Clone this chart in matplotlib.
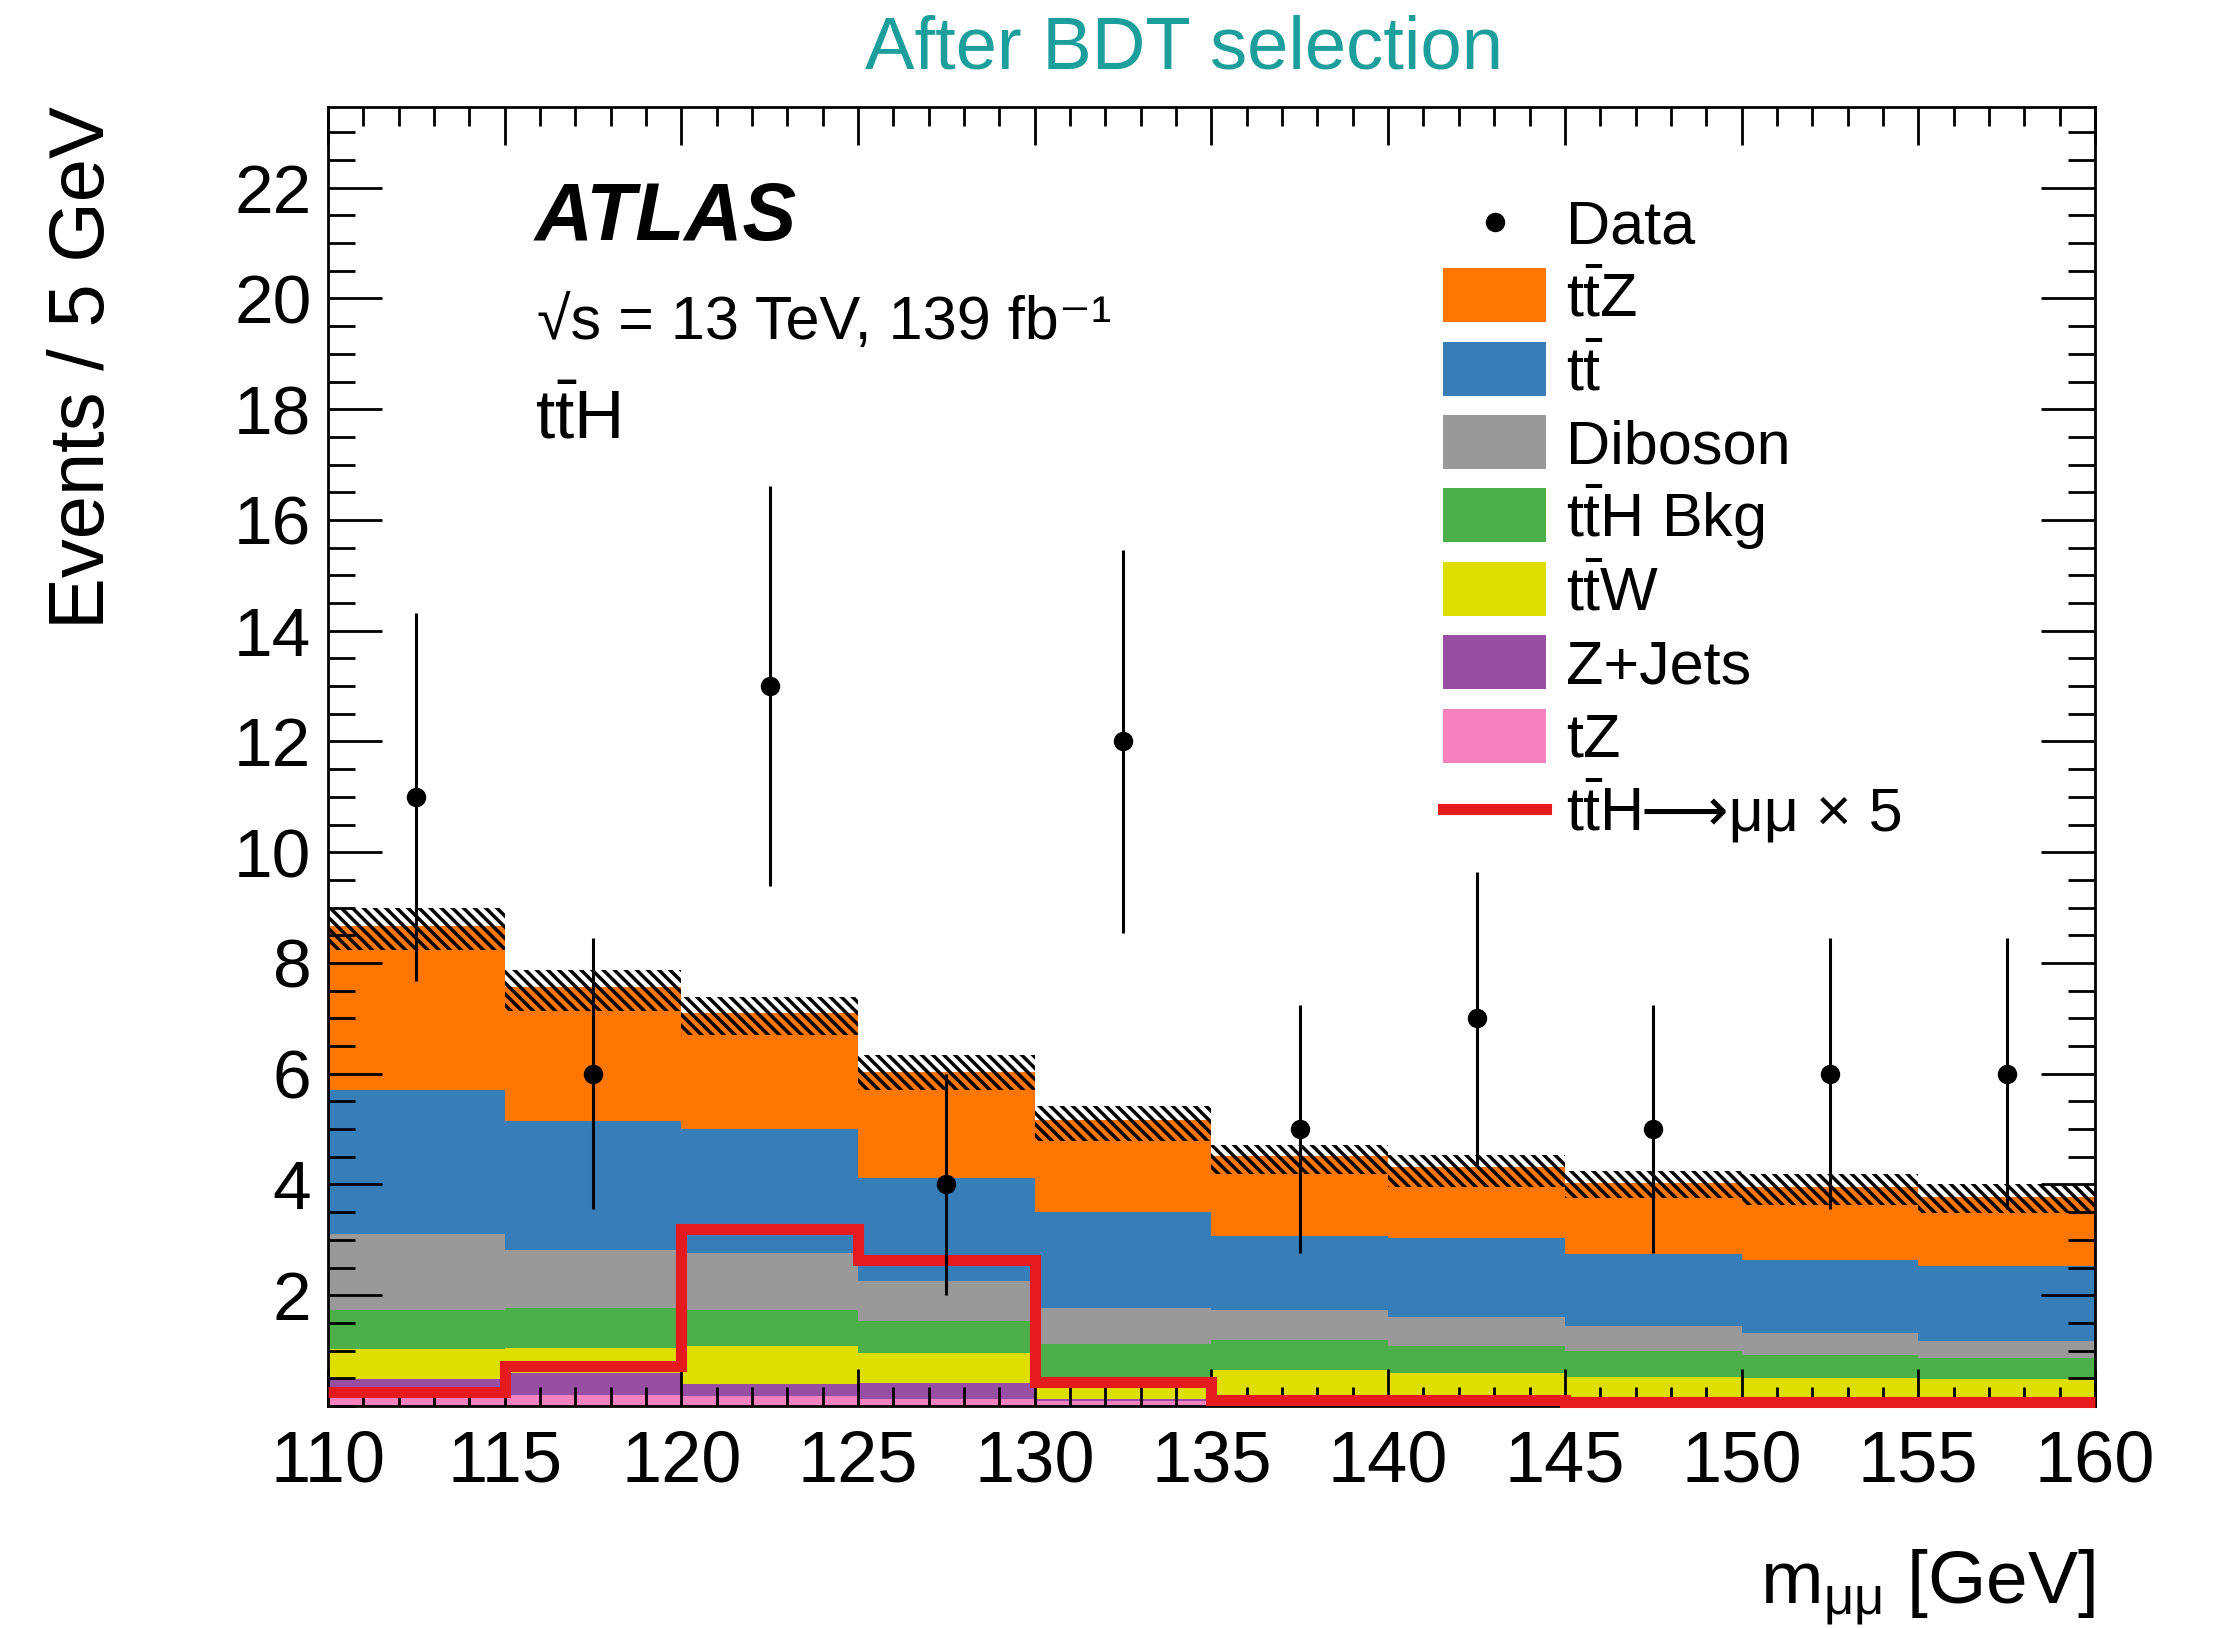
import numpy as np
import matplotlib
matplotlib.use("Agg")
import matplotlib.pyplot as plt
from matplotlib.patches import Rectangle
from matplotlib.lines import Line2D
from matplotlib.ticker import MultipleLocator, FixedLocator

plt.rcParams['font.family'] = ['Liberation Sans', 'DejaVu Sans']
plt.rcParams['mathtext.fontset'] = 'custom'
plt.rcParams['mathtext.rm'] = 'Liberation Sans'
plt.rcParams['mathtext.it'] = 'Liberation Sans:italic'
plt.rcParams['mathtext.bf'] = 'Liberation Sans:bold'
plt.rcParams['hatch.linewidth'] = 2.5

# m_mumu binning [GeV]
edges = np.arange(110, 161, 5)
centers = 0.5 * (edges[:-1] + edges[1:])

# expected background events per bin, stacked bottom -> top
tz      = [0.14, 0.19, 0.18, 0.12, 0.09, 0.05, 0.05, 0.04, 0.04, 0.04]
zjets   = [0.34, 0.40, 0.22, 0.30, 0.03, 0.01, 0.01, 0.01, 0.01, 0.01]
ttw     = [0.54, 0.46, 0.69, 0.53, 0.33, 0.59, 0.54, 0.48, 0.46, 0.43]
tth_bkg = [0.71, 0.72, 0.64, 0.59, 0.66, 0.54, 0.49, 0.46, 0.41, 0.39]
diboson = [1.38, 1.05, 1.03, 0.72, 0.66, 0.54, 0.51, 0.46, 0.39, 0.31]
ttbar   = [2.59, 2.32, 2.25, 1.85, 1.74, 1.34, 1.44, 1.29, 1.33, 1.34]
ttz     = [2.97, 2.42, 2.08, 1.92, 1.66, 1.45, 1.27, 1.29, 1.32, 1.26]

# total background uncertainty band
band_lo = [8.24, 7.13, 6.70, 5.70, 4.79, 4.18, 3.96, 3.75, 3.63, 3.48]
band_hi = [8.99, 7.88, 7.38, 6.33, 5.42, 4.71, 4.53, 4.25, 4.19, 4.00]

# ttH -> mumu signal scaled by 5
signal_x5 = [0.25, 0.73, 3.20, 2.64, 0.44, 0.10, 0.10, 0.08, 0.08, 0.08]

# observed data
data     = [11, 6, 13, 4, 12, 5, 7, 5, 6, 6]
data_err = [3.32, 2.45, 3.61, 2.00, 3.46, 2.24, 2.65, 2.24, 2.45, 2.45]

stack = [
    (tz,      '#f781bf', r'tZ'),
    (zjets,   '#984ea3', r'Z+Jets'),
    (ttw,     '#dede00', r'$\mathrm{t\bar{t}W}$'),
    (tth_bkg, '#4daf4a', r'$\mathrm{t\bar{t}H\ Bkg}$'),
    (diboson, '#999999', r'Diboson'),
    (ttbar,   '#377eb8', r'$\mathrm{t\bar{t}}$'),
    (ttz,     '#ff7700', r'$\mathrm{t\bar{t}Z}$'),
]
sig_color = '#e41a1c'
title_color = '#1b9e9c'

fig = plt.figure(figsize=(22.18, 16.28), dpi=100)
ax = fig.add_axes([0.1479, 0.1364, 0.7966, 0.7976])

# stacked backgrounds
base = np.zeros(len(centers))
for vals, col, lab in stack:
    top = base + np.array(vals)
    ax.stairs(top, edges, baseline=base, fill=True, color=col, linewidth=0)
    base = top

# uncertainty hatch
ax.bar(centers, np.array(band_hi) - np.array(band_lo), bottom=band_lo, width=5,
       fill=False, hatch='\\\\\\', edgecolor='black', linewidth=0)

# signal
ax.stairs(signal_x5, edges, baseline=None, color=sig_color, linewidth=8,
          clip_on=False, zorder=3)

# data
ax.errorbar(centers, data, yerr=data_err, fmt='o', color='black',
            markersize=13, elinewidth=2.2, capsize=0, zorder=4)

ax.set_xlim(110, 160)
ax.set_ylim(0, 23.45)
ax.xaxis.set_major_locator(MultipleLocator(5))
ax.xaxis.set_minor_locator(MultipleLocator(1))
ax.yaxis.set_major_locator(FixedLocator(np.arange(2, 23, 2)))
ax.yaxis.set_minor_locator(MultipleLocator(0.5))
ax.tick_params(which='both', direction='in', top=True, right=True, width=2)
ax.tick_params(axis='x', which='major', length=27, labelsize=52, pad=17)
ax.tick_params(axis='x', which='minor', length=13.5)
ax.tick_params(axis='y', which='major', length=39, labelsize=50, pad=12)
ax.tick_params(axis='y', which='minor', length=19.5)
for sp in ax.spines.values():
    sp.set_linewidth(2)

# axis titles
fig.text(0.9445, 0.015, r'm$_{\mathrm{\mu\mu}}$ [GeV]', ha='right',
         va='baseline', fontsize=54)
fig.text(0.021, 0.935, 'Events / 5 GeV', rotation=90, ha='left', va='top',
         fontsize=56)
fig.text(0.534, 0.958, 'After BDT selection', ha='center', va='baseline',
         fontsize=53.5, color=title_color)

# labels inside the frame
ax.text(0.117, 0.8976, 'ATLAS', transform=ax.transAxes, fontsize=58,
        fontweight='bold', fontstyle='italic', va='baseline')
ax.text(0.118, 0.8213, '√s = 13 TeV, 139 fb⁻¹',
        transform=ax.transAxes, fontsize=44, va='baseline')
ax.text(0.117, 0.7451, r'$\mathrm{t\bar{t}H}$', transform=ax.transAxes,
        fontsize=50, va='baseline')

# legend
row0, step = 0.9118, 0.0565
box_x0, box_x1, text_x = 0.6309, 0.6894, 0.7006
box_h = 0.0416
ax.plot([0.6605], [row0], 'o', color='black', markersize=13,
        transform=ax.transAxes)
ax.text(text_x, row0 - 0.0165, 'Data', transform=ax.transAxes, fontsize=44,
        va='baseline')
for i, (vals, col, lab) in enumerate(stack[::-1]):
    y = row0 - (i + 1) * step
    ax.add_patch(Rectangle((box_x0, y - box_h / 2), box_x1 - box_x0, box_h,
                           transform=ax.transAxes, color=col, linewidth=0))
    ax.text(text_x, y - 0.0165, lab, transform=ax.transAxes, fontsize=44,
            va='baseline')
y = row0 - 8 * step
ax.add_line(Line2D([box_x0, box_x1], [y, y], transform=ax.transAxes,
                   color=sig_color, linewidth=8))
t_sig = ax.text(text_x, y - 0.0165, r'$\mathrm{t\bar{t}H}$',
                transform=ax.transAxes, fontsize=44, va='baseline')
# the arrow part is plain text so the font fallback can supply the glyph
renderer = fig.canvas.get_renderer()
bb = t_sig.get_window_extent(renderer).transformed(ax.transAxes.inverted())
ax.text(bb.x1, y - 0.0165, '⟶μμ × 5', transform=ax.transAxes, fontsize=44,
        va='baseline')

fig.savefig('out.png', dpi=100)
